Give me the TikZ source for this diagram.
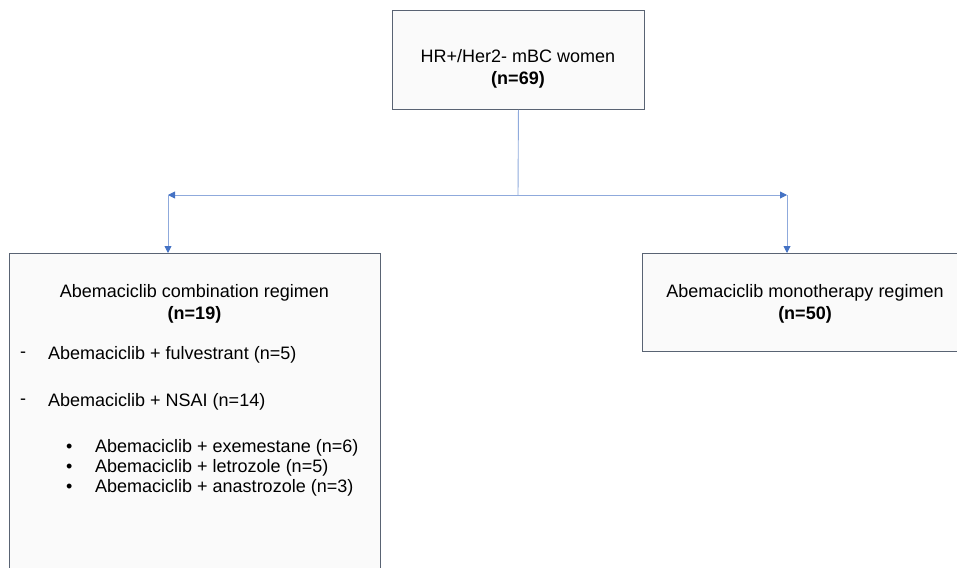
\documentclass[tikz,border=0pt]{standalone}
\usepackage{fontspec}
\setmainfont{Liberation Sans}
\usetikzlibrary{arrows.meta,positioning}
\definecolor{boxline}{RGB}{89,99,115}
\definecolor{boxfill}{RGB}{250,250,250}
\definecolor{linkline}{RGB}{143,170,220}
\definecolor{linktip}{RGB}{68,114,196}
\tikzset{
    box/.style={draw=boxline, fill=boxfill, line width=0.9pt, inner sep=0pt, anchor=north west},
    link/.style={draw=linkline, line width=0.9pt},
    tip/.style={-{Triangle[color=linktip, length=7pt, width=7pt]}},
    txt/.style={font=\fontsize{18}{22}\selectfont, inner sep=0pt, align=center},
    item/.style={txt, anchor=west}
}

\begin{document}
\begin{tikzpicture}[x=1pt, y=-1pt]
    \useasboundingbox (0,0) rectangle (957,567);

    % Boxes
    \node[box, minimum width=252pt, minimum height=99pt] (top) at (392,10) {};
    \node[box, minimum width=371pt, minimum height=330pt] (combo) at (9,253) {};
    \node[box, minimum width=326pt, minimum height=98pt] (mono) at (642,253) {};

    % Box titles
    \node[txt] (top-text) at (518,69) {HR+/Her2- mBC women\\\textbf{(n=69)}};
    \node[txt] (combo-text) at (194.5,304) {Abemaciclib combination regimen\\\textbf{(n=19)}};
    \node[txt] (mono-text) at (805,304) {Abemaciclib monotherapy regimen\\\textbf{(n=50)}};

    % Combination regimens
    \node[item] (dash-1) at (20,355) {-};
    \node[item] (fulv) at (48,355) {Abemaciclib + fulvestrant (n=5)};
    \node[item] (dash-2) at (20,402) {-};
    \node[item] (nsai) at (48,402) {Abemaciclib + NSAI (n=14)};

    \foreach \drug [count=\i] in {{exemestane (n=6)},{letrozole (n=5)},{anastrozole (n=3)}}
    {
        \node[item] (dot-\i) at (66,428+20*\i) {•};
        \node[item] (nsai-\i) at (95,428+20*\i) {Abemaciclib + \drug};
    }

    % Connectors
    \coordinate (split) at (518,195);
    \coordinate (lcorner) at (168,195);
    \coordinate (rcorner) at (787,195);
    \draw[link] (top.south) -- (split);
    \draw[link, tip] (split) -- (lcorner);
    \draw[link, tip] (split) -- (rcorner);
    \draw[link, tip] (lcorner) -- (lcorner |- combo.north);
    \draw[link, tip] (rcorner) -- (rcorner |- mono.north);

\end{tikzpicture}
\end{document}
